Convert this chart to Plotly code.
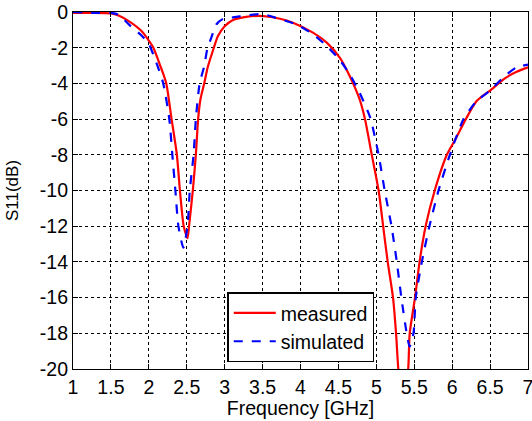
import plotly.graph_objects as go

# Measured S11
freq_meas = [1.0, 1.25, 1.5, 1.6, 1.75, 1.9, 2.0, 2.06, 2.15, 2.23, 2.30, 2.37, 2.41, 2.46, 2.51,
             2.53, 2.58, 2.62, 2.65, 2.68, 2.73, 2.78, 2.85, 2.91, 3.0, 3.11, 3.28, 3.51, 3.73, 3.9,
             4.17, 4.35, 4.52, 4.65, 4.78, 4.85, 4.94, 5.03, 5.09, 5.15, 5.22, 5.26, 5.29, 5.35,
             5.42, 5.44, 5.51, 5.57, 5.65, 5.77, 5.93, 6.04, 6.18, 6.32, 6.5, 6.7, 6.85, 7.0]
s11_meas = [-0.05, -0.05, -0.08, -0.2, -0.55, -1.05, -1.6, -2.0, -3.0, -4.0, -6.0, -8.0, -10.0, -12.0, -12.67,
            -12.0, -10.0, -8.0, -6.0, -4.9, -4.0, -3.04, -2.1, -1.36, -0.8, -0.45, -0.27, -0.23, -0.38, -0.6,
            -1.17, -1.73, -2.57, -3.6, -4.9, -6.0, -8.0, -10.0, -12.0, -14.0, -16.0, -18.0, -20.0, -22.0,
            -20.0, -18.0, -16.0, -14.0, -12.0, -10.0, -8.0, -7.15, -6.0, -5.0, -4.4, -3.7, -3.35, -3.1]

# Simulated S11
freq_sim = [1.0, 1.25, 1.5, 1.6, 1.75, 1.9, 2.0, 2.1, 2.19, 2.27, 2.31, 2.35, 2.39, 2.455,
            2.51, 2.54, 2.59, 2.62, 2.67, 2.73, 2.77, 2.83, 2.89, 2.98, 3.11, 3.28, 3.5, 3.73, 3.95,
            4.17, 4.35, 4.52, 4.65, 4.78, 4.92, 5.03, 5.11, 5.20, 5.27, 5.33, 5.40, 5.44,
            5.49, 5.52, 5.60, 5.70, 5.82, 5.97, 6.15, 6.32, 6.5, 6.7, 6.85, 7.0]
s11_sim = [0.0, -0.05, -0.05, -0.15, -0.75, -1.3, -1.8, -2.85, -4.0, -6.0, -8.0, -10.0, -12.0, -13.2,
           -12.0, -10.0, -8.0, -6.0, -4.0, -3.04, -2.1, -1.36, -0.7, -0.38, -0.3, -0.2, -0.12, -0.4, -0.7,
           -1.26, -1.92, -2.7, -3.5, -4.53, -5.93, -8.0, -10.0, -12.0, -14.0, -16.0, -18.0, -18.75,
           -18.0, -16.0, -14.0, -12.0, -10.0, -8.0, -6.0, -5.0, -4.4, -3.56, -3.1, -2.95]

x_ticks = [1, 1.5, 2, 2.5, 3, 3.5, 4, 4.5, 5, 5.5, 6, 6.5, 7]
y_ticks = [0, -2, -4, -6, -8, -10, -12, -14, -16, -18, -20]

FONT = "Liberation Sans, Arial, sans-serif"

fig = go.Figure()
fig.add_trace(go.Scatter(x=freq_meas, y=s11_meas, mode="lines", name="measured",
                         line_shape="spline",
                         line=dict(color="#ff0000", width=2.2, smoothing=0.6)))
fig.add_trace(go.Scatter(x=freq_sim, y=s11_sim, mode="lines", name="simulated",
                         line_shape="spline",
                         line=dict(color="#0000ff", width=2.2, dash="dash", smoothing=0.6)))

axis_common = dict(
    showline=True, linecolor="black", linewidth=1.2, mirror="ticks",
    ticks="inside", ticklen=5, tickcolor="black", tickwidth=1,
    showgrid=True, gridcolor="black", gridwidth=1, griddash="dot",
    zeroline=False, ticklabeloverflow="allow",
    tickfont=dict(family=FONT, size=19.5, color="black"),
)

fig.update_xaxes(range=[1, 7], tickvals=x_ticks, ticktext=[str(v) for v in x_ticks],
                 title=dict(text="Frequency [GHz]", font=dict(family=FONT, size=19.5, color="black"), standoff=2),
                 **axis_common)
fig.update_yaxes(range=[-20, 0], tickvals=y_ticks, ticktext=[str(v) for v in y_ticks],
                 title=dict(text="S11(dB)", font=dict(family=FONT, size=17, color="black"), standoff=16),
                 **axis_common)

fig.update_layout(
    width=532, height=421,
    margin=dict(l=73, r=4, t=12, b=52, autoexpand=False),
    paper_bgcolor="white", plot_bgcolor="white",
    font=dict(family=FONT, size=19.5, color="black"),
    legend=dict(x=0.339, y=0.019, xanchor="left", yanchor="bottom",
                bgcolor="white", bordercolor="black", borderwidth=1.5,
                font=dict(family=FONT, size=19.5, color="black"),
                tracegroupgap=0, itemwidth=42),
)

fig.write_html("out.html")
